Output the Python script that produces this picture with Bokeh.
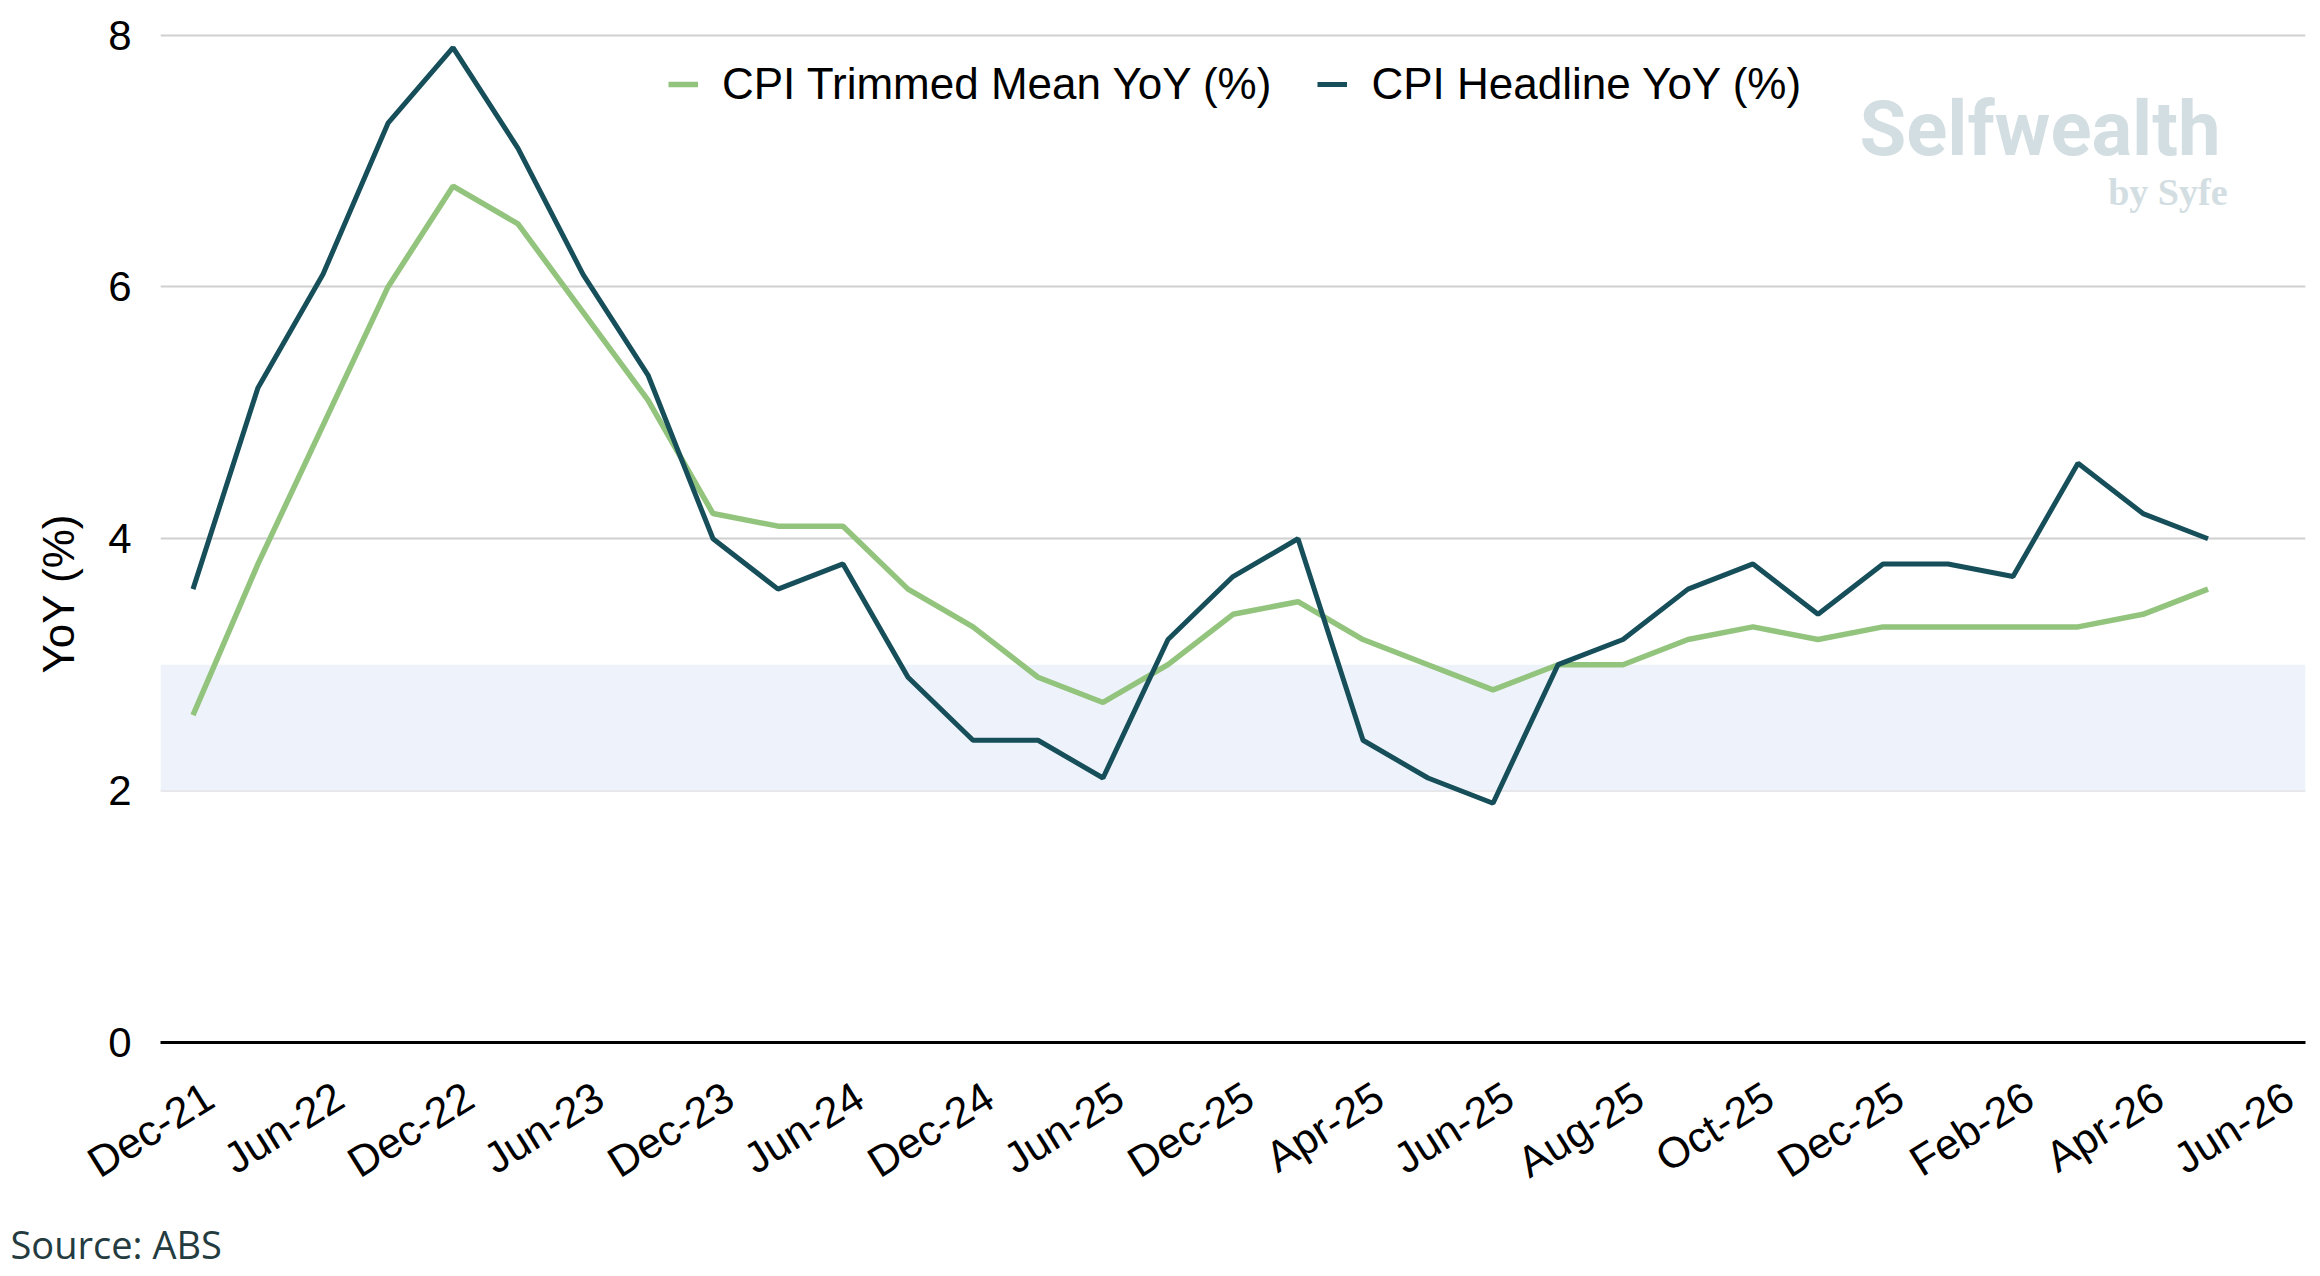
import math
from bokeh.plotting import figure
from bokeh.models import FixedTicker, BoxAnnotation, Label, Legend, LegendItem, Title
from bokeh.embed import file_html
from bokeh.resources import INLINE

# ---- data ----
tick_labels = ["Dec-21", "Jun-22", "Dec-22", "Jun-23", "Dec-23", "Jun-24", "Dec-24",
               "Jun-25", "Dec-25", "Apr-25", "Jun-25", "Aug-25", "Oct-25", "Dec-25",
               "Feb-26", "Apr-26", "Jun-26"]
headline = [3.6, 5.2, 6.1, 7.3, 7.9, 7.1, 6.1, 5.3, 4.0, 3.6, 3.8, 2.9, 2.4, 2.4, 2.1, 3.2,
            3.7, 4.0, 2.4, 2.1, 1.9, 3.0, 3.2, 3.6, 3.8, 3.4, 3.8, 3.8, 3.7, 4.6, 4.2, 4.0]
trimmed = [2.6, 3.8, 4.9, 6.0, 6.8, 6.5, 5.8, 5.1, 4.2, 4.1, 4.1, 3.6, 3.3, 2.9, 2.7, 3.0,
           3.4, 3.5, 3.2, 3.0, 2.8, 3.0, 3.0, 3.2, 3.3, 3.2, 3.3, 3.3, 3.3, 3.3, 3.4, 3.6]
target_band = [2, 3]
y_ticks = [0, 2, 4, 6, 8]

GREEN = "#93C47D"
TEAL = "#164E5A"
FONT = "Liberation Sans"

n_slots = 2 * (len(tick_labels) - 1) + 1
xs = list(range(len(headline)))
tick_pos = [i + 0.25 for i in range(0, n_slots, 2)]

p = figure(width=2312, height=1275, x_range=(-0.5, n_slots - 0.5), y_range=(0, 8.02),
           output_backend="svg", toolbar_location=None,
           min_border_left=160, min_border_right=7, min_border_top=32, min_border_bottom=233)
p.outline_line_color = None
p.background_fill_color = "white"
p.border_fill_color = "white"

band = BoxAnnotation(bottom=target_band[0], top=target_band[1], fill_color="#EEF3FB",
                     fill_alpha=1.0, line_color=None, level="underlay")
p.add_layout(band)

r_tm = p.line(xs, trimmed, line_color=GREEN, line_width=5.5)
r_hl = p.line(xs, headline, line_color=TEAL, line_width=5)

# axes
p.yaxis.ticker = FixedTicker(ticks=y_ticks)
p.yaxis.axis_line_color = None
p.yaxis.major_tick_line_color = None
p.yaxis.minor_tick_line_color = None
p.yaxis.major_label_text_font = FONT
p.yaxis.major_label_text_font_size = "42px"
p.yaxis.major_label_text_color = "black"
p.yaxis.major_label_standoff = 23

p.xaxis.ticker = FixedTicker(ticks=tick_pos)
p.xaxis.major_label_overrides = {pos: lab for pos, lab in zip(tick_pos, tick_labels)}
p.xaxis.axis_line_color = "black"
p.xaxis.axis_line_width = 3
p.xaxis.major_tick_line_color = None
p.xaxis.minor_tick_line_color = None
p.xaxis.major_label_text_font = FONT
p.xaxis.major_label_text_font_size = "43px"
p.xaxis.major_label_text_color = "black"
p.xaxis.major_label_orientation = math.radians(32)
p.xaxis.major_label_standoff = 44

p.xgrid.visible = False
p.ygrid.ticker = FixedTicker(ticks=y_ticks[1:])
p.ygrid.grid_line_color = "#D0D0D0"
p.ygrid.grid_line_width = 2

legend = Legend(items=[LegendItem(label="CPI Trimmed Mean YoY (%)", renderers=[r_tm]),
                       LegendItem(label="CPI Headline YoY (%)", renderers=[r_hl])],
                orientation="horizontal", location=(508, 933),
                label_text_font=FONT, label_text_font_size="44px", label_text_color="black",
                glyph_width=30, glyph_height=20, label_standoff=24, spacing=46,
                padding=0, margin=0, border_line_color=None, background_fill_alpha=0)
p.add_layout(legend)

# y axis title
p.add_layout(Title(text="YoY (%)", align="left", offset=369, standoff=45,
                   text_font=FONT, text_font_size="44px", text_font_style="normal",
                   text_color="black"), "left")

# source note
p.add_layout(Title(text="Source: ABS", align="left", offset=-150, standoff=12,
                   text_font="Open Sans", text_font_size="38px", text_font_style="normal",
                   text_color="#243B40"), "below")

# watermark
p.add_layout(Label(x=2060, y=914, x_units="screen", y_units="screen", text="Selfwealth",
                   text_font="Roboto", text_font_style="bold", text_font_size="76px",
                   text_color="#D3DEE2", text_align="right", text_baseline="alphabetic"))
p.add_layout(Label(x=2067, y=851, x_units="screen", y_units="screen", text="by Syfe",
                   text_font="Liberation Serif", text_font_style="bold", text_font_size="38px",
                   text_color="#D3DEE2", text_align="right", text_baseline="alphabetic"))

open("out.html", "w").write(file_html(p, INLINE))
